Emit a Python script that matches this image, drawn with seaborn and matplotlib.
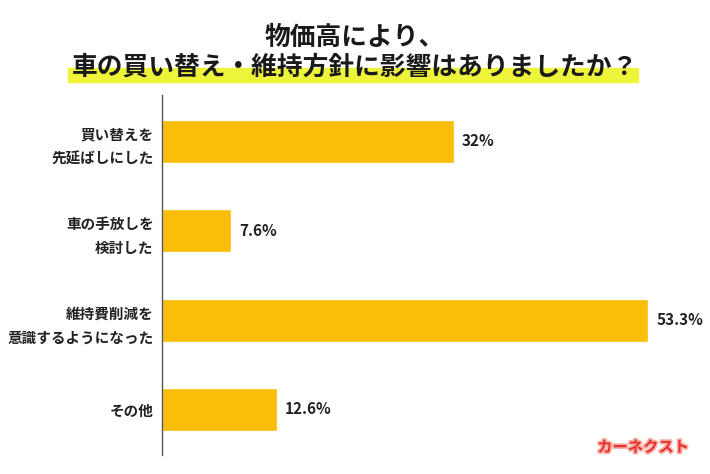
import matplotlib
matplotlib.use("Agg")
import matplotlib.pyplot as plt
import matplotlib.patheffects as pe
import seaborn as sns
import pandas as pd

# data
categories = ["買い替えを\n先延ばしにした", "車の手放しを\n検討した", "維持費削減を\n意識するようになった", "その他"]
values = [32.0, 7.6, 53.3, 12.6]
value_labels = ["32%", "7.6%", "53.3%", "12.6%"]

title_line1 = "物価高により、"
title_line2 = "車の買い替え・維持方針に影響はありましたか？"

df = pd.DataFrame({"category": categories, "value": values})

sns.set_style("white")
plt.rcParams["font.family"] = ["Noto Sans CJK JP", "DejaVu Sans"]

fig = plt.figure(figsize=(7.1, 4.74), dpi=100)
ax = fig.add_axes([162 / 710, 19 / 474, 547 / 710, 360 / 474])

sns.barplot(data=df, x="value", y="category", orient="h", color="#FABD08",
            saturation=1, width=0.48, ax=ax)

ax.set_xlim(0, 60)
ax.set_ylim(3.51, -0.52)
ax.set_xlabel("")
ax.set_ylabel("")
ax.set_xticks([])
ax.tick_params(axis="y", length=0, pad=6)
for lbl in ax.get_yticklabels():
    lbl.set_fontsize(10.5)
    lbl.set_fontweight("bold")
    lbl.set_color("#222222")
    lbl.set_linespacing(1.6)

for s in ["top", "right", "bottom"]:
    ax.spines[s].set_visible(False)
ax.spines["left"].set_color("#555555")
ax.spines["left"].set_linewidth(1.0)

# value labels at bar ends
for i, (v, t) in enumerate(zip(values, value_labels)):
    ax.text(v + 0.9, i, t, va="center", ha="left", fontsize=11,
            fontweight="bold", color="#222222")

# title with yellow marker highlight under second line
fig.patches.append(plt.Rectangle((68 / 710, 1 - 82 / 474), 570 / 710, 14 / 474,
                                 transform=fig.transFigure, color="#EEF43A",
                                 zorder=0))
fig.text(0.5, 1 - 37 / 474, title_line1, ha="center", va="center",
         fontsize=18.5, fontweight="bold", color="#1a1a1a")
fig.text(0.5, 1 - 67 / 474, title_line2, ha="center", va="center",
         fontsize=18.5, fontweight="bold", color="#1a1a1a")

# watermark
fig.text(643 / 710, 1 - 447 / 474, "カーネクスト", ha="center", va="center",
         fontsize=11, fontweight="bold", style="italic", color="#E8302C",
         path_effects=[pe.withStroke(linewidth=2.5, foreground="#F6B0A8")])

fig.savefig("out.png", dpi=100)
